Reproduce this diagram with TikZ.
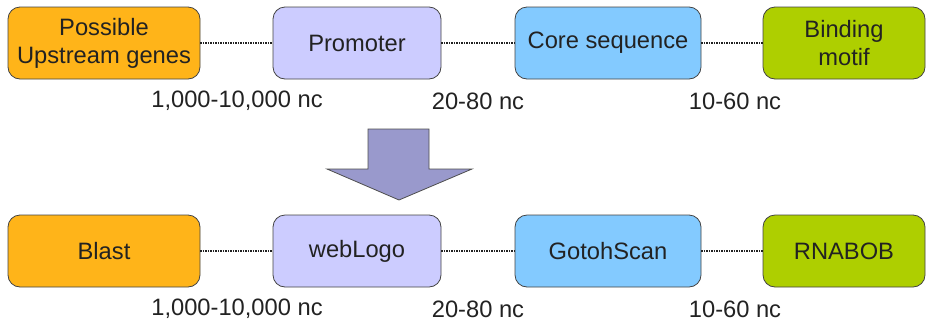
\documentclass[tikz,border=0pt]{standalone}
\usepackage{fontspec}
\setmainfont{Liberation Sans}
\definecolor{boxorange}{HTML}{FFB419}
\definecolor{boxlav}{HTML}{CCCCFF}
\definecolor{boxblue}{HTML}{83CAFF}
\definecolor{boxgreen}{HTML}{AECF00}
\definecolor{arrowfill}{HTML}{9999CC}
\definecolor{ink}{HTML}{222222}
\begin{document}
\begin{tikzpicture}[x=1pt,y=-1pt,
  stage/.style={draw=ink!85, line width=0.8pt, rounded corners=12pt,
    minimum height=72pt, inner sep=0pt, align=center, text=ink,
    font=\fontsize{23.7}{28}\selectfont},
  lenlabel/.style={text=ink, inner sep=0pt, font=\fontsize{23.7}{28}\selectfont},
  link/.style={draw=ink, line width=1.3pt, dash pattern=on 1.2pt off 1.3pt}]
\useasboundingbox (0,0) rectangle (928,322);

% upper row: genomic regions
\node[stage, fill=boxorange, minimum width=192pt] (up) at (104,43) {Possible\\Upstream genes};
\node[stage, fill=boxlav, minimum width=168pt] (prom) at (357,43) {Promoter};
\node[stage, fill=boxblue, minimum width=186pt] (core) at (608,43) {Core sequence};
\node[stage, fill=boxgreen, minimum width=162pt] (motif) at (844,43) {Binding\\motif};
\draw[link] (up) -- (prom);
\draw[link] (prom) -- (core);
\draw[link] (core) -- (motif);
\node[lenlabel] (l1) at (237,101) {1,000-10,000 nc};
\node[lenlabel] (l2) at (478,101) {20-80 nc};
\node[lenlabel] (l3) at (735,101) {10-60 nc};

% downward block arrow
\draw[draw=ink!80, fill=arrowfill, line width=0.8pt]
  (368,129) -- (429,129) -- (429,169) -- (472,169) -- (399,200)
  -- (327,169) -- (368,169) -- cycle;

% lower row: tools
\node[stage, fill=boxorange, minimum width=192pt] (blast) at (104,251) {Blast};
\node[stage, fill=boxlav, minimum width=168pt] (logo) at (357,251) {webLogo};
\node[stage, fill=boxblue, minimum width=186pt] (gotoh) at (608,251) {GotohScan};
\node[stage, fill=boxgreen, minimum width=162pt] (rnabob) at (844,251) {RNABOB};
\draw[link] (blast) -- (logo);
\draw[link] (logo) -- (gotoh);
\draw[link] (gotoh) -- (rnabob);
\node[lenlabel] (m1) at (237,309) {1,000-10,000 nc};
\node[lenlabel] (m2) at (478,309) {20-80 nc};
\node[lenlabel] (m3) at (735,309) {10-60 nc};
\end{tikzpicture}
\end{document}
